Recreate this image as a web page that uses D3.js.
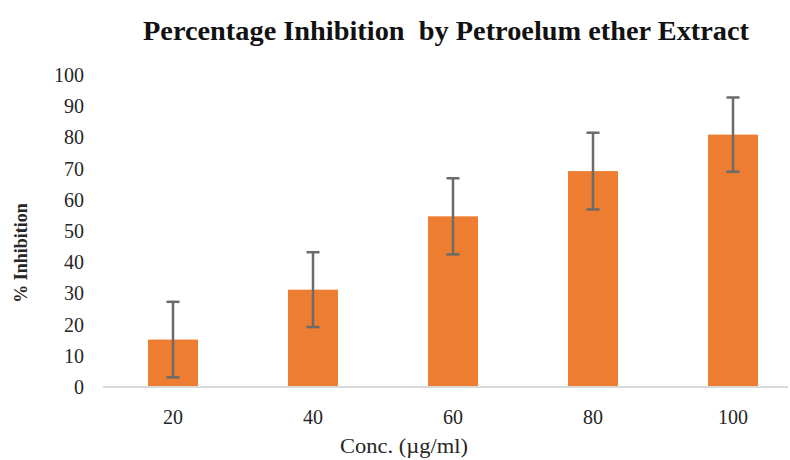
<!DOCTYPE html>
<html>
<head>
<meta charset="utf-8">
<script src="https://cdn.jsdelivr.net/npm/d3@7/dist/d3.min.js"></script>
<style>
  html, body { margin: 0; padding: 0; background: #fff; }
  svg { display: block; }
</style>
</head>
<body>
<svg id="chart" width="790" height="460"></svg>
<script>
const categories = ["20", "40", "60", "80", "100"];
const values = [15.2, 31.2, 54.7, 69.2, 80.9];
const errors = [12.1, 12.0, 12.2, 12.3, 11.9];
const yTicks = [0, 10, 20, 30, 40, 50, 60, 70, 80, 90, 100];

const svg = d3.select("#chart");
const plotLeft = 103, plotRight = 803, plotTop = 75, plotBottom = 387;

const x = d3.scaleBand().domain(categories).range([plotLeft, plotRight])
  .paddingInner(0.643).paddingOuter(0.3215);
const y = d3.scaleLinear().domain([0, 100]).range([plotBottom, plotTop]);

// Title
svg.append("text")
  .attr("x", 446).attr("y", 40)
  .attr("text-anchor", "middle")
  .attr("font-family", "Liberation Serif, Times New Roman, serif")
  .attr("font-weight", "bold")
  .attr("font-size", 28)
  .attr("fill", "#111")
  .attr("textLength", 606)
  .attr("lengthAdjust", "spacingAndGlyphs")
  .style("white-space", "pre")
  .text("Percentage Inhibition  by Petroelum ether Extract");

// Bars
svg.append("g").selectAll("rect")
  .data(values)
  .join("rect")
  .attr("x", (d, i) => x(categories[i]))
  .attr("y", d => y(d))
  .attr("width", x.bandwidth())
  .attr("height", d => y(0) - y(d))
  .attr("fill", "#ED7D31");

// Error bars
const eg = svg.append("g").attr("stroke", "#6b6b6b").attr("stroke-width", 2.5);
values.forEach((v, i) => {
  const cx = x(categories[i]) + x.bandwidth() / 2;
  const hi = y(v + errors[i]), lo = y(v - errors[i]);
  eg.append("line").attr("x1", cx).attr("x2", cx).attr("y1", hi).attr("y2", lo);
  eg.append("line").attr("x1", cx - 6.5).attr("x2", cx + 6.5).attr("y1", hi).attr("y2", hi);
  eg.append("line").attr("x1", cx - 6.5).attr("x2", cx + 6.5).attr("y1", lo).attr("y2", lo);
});

// Baseline axis line
svg.append("line")
  .attr("x1", plotLeft).attr("x2", 788)
  .attr("y1", y(0)).attr("y2", y(0))
  .attr("stroke", "#d9d9d9").attr("stroke-width", 2);

// Y axis
const yAxis = svg.append("g")
  .attr("transform", `translate(${plotLeft},0)`)
  .call(d3.axisLeft(y).tickValues(yTicks).tickSize(0).tickPadding(19));
yAxis.select(".domain").remove();
yAxis.selectAll("text")
  .attr("font-family", "Liberation Serif, Times New Roman, serif")
  .attr("font-size", 20)
  .attr("fill", "#262626");

// X axis
const xAxis = svg.append("g")
  .attr("transform", `translate(0,${plotBottom})`)
  .call(d3.axisBottom(x).tickSize(0).tickPadding(23));
xAxis.select(".domain").remove();
xAxis.selectAll("text")
  .attr("font-family", "Liberation Serif, Times New Roman, serif")
  .attr("font-size", 20)
  .attr("fill", "#262626");

// Axis titles
svg.append("text")
  .attr("x", 404).attr("y", 453)
  .attr("text-anchor", "middle")
  .attr("font-family", "Liberation Serif, Times New Roman, serif")
  .attr("font-size", 20)
  .attr("fill", "#262626")
  .attr("textLength", 128)
  .attr("lengthAdjust", "spacingAndGlyphs")
  .text("Conc. (µg/ml)");

svg.append("text")
  .attr("transform", "translate(27,253) rotate(-90)")
  .attr("text-anchor", "middle")
  .attr("font-family", "Liberation Serif, Times New Roman, serif")
  .attr("font-weight", "bold")
  .attr("font-size", 18)
  .attr("fill", "#262626")
  .text("% Inhibition");
</script>
</body>
</html>
